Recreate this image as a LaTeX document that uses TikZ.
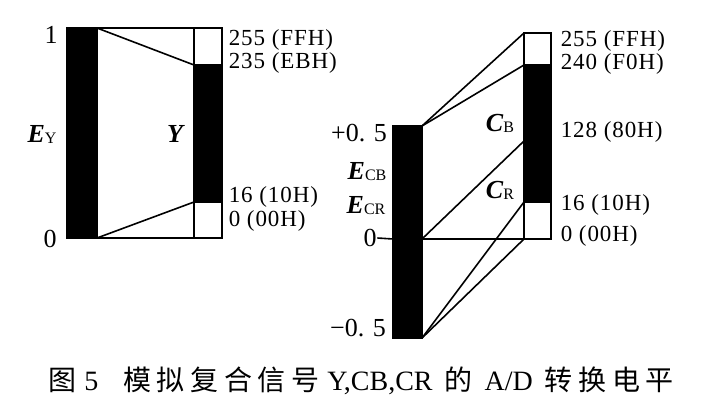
\documentclass[tikz,border=0pt]{standalone}
\usepackage{fontspec}
\setmainfont{Liberation Serif}
\newfontfamily\cjk[LetterSpace=20]{Noto Sans CJK SC}
\newfontfamily\lvlfont[LetterSpace=4]{Liberation Serif}
\usetikzlibrary{positioning,calc}
\newcommand{\sig}[2]{\textbf{\textit{#1}}\raisebox{-1pt}{\fontsize{16}{16}\selectfont #2}}

\begin{document}
\begin{tikzpicture}[x=1pt,y=-1pt,line width=1.6pt,
  bar/.style={rectangle,fill=black,draw=black,inner sep=0pt,outer sep=0pt},
  frame/.style={rectangle,draw=black,inner sep=0pt,outer sep=0pt},
  lvl/.style={anchor=west,inner sep=0pt,font=\fontsize{23}{23}\selectfont\lvlfont},
  sym/.style={inner sep=0pt,font=\fontsize{26}{26}\selectfont}
]
\useasboundingbox (0,0) rectangle (702,412);
% Y: analogue bar and 8-bit range
\node[bar,minimum width=30pt,minimum height=210pt] (ey) at (82,133) {};
\node[bar,minimum width=28pt,minimum height=137pt] (yblack) at (208,133.5) {};
\node[frame,minimum width=28pt,minimum height=210pt] (yframe) at (208,133) {};
\draw (ey.north east) -- (yframe.north west);
\draw (ey.north east) -- (yblack.north west);
\draw (ey.south east) -- (yblack.south west);
\draw (ey.south east) -- (yframe.south west);
\node[sym] (yone) at (51,35) {1};
\node[sym] (yzero) at (50,239) {0};
\node[sym] (eylbl) at (42,134) {\sig{E}{Y}};
\node[sym] (ylbl) at (176,134) {\textbf{\textit{Y}}};
\node[lvl] (y255) at (228,40) {255 (FFH)};
\node[lvl] (y235) at (228,63) {235 (EBH)};
\node[lvl] (y16) at (228,197) {16 (10H)};
\node[lvl] (y0) at (228,221) {0 (00H)};
% CB, CR: analogue bar and 8-bit range
\node[bar,minimum width=29pt,minimum height=212pt] (ec) at (407.5,232) {};
\node[bar,minimum width=27pt,minimum height=137pt] (cblack) at (537.5,133.5) {};
\node[frame,minimum width=27pt,minimum height=206pt] (cframe) at (537.5,136) {};
\coordinate (ez) at (ec.east |- cframe.south west);
\coordinate (cmid) at (524,141);
\draw (ec.north east) -- (cframe.north west);
\draw (ec.north east) -- (cblack.north west);
\draw (ez) -- (cmid);
\draw (ez) -- (cframe.south west);
\draw (ec.south east) -- (cblack.south west);
\draw (ec.south east) -- (cframe.south west);
\node[sym] (cplus) at (359,133) {+0. 5};
\node[sym] (cminus) at (358,328) {\char"2212 0. 5};
\node[sym] (czero) at (370,238) {0};
\draw (czero.east) -- (ec.west |- ez);
\node[sym] (ecblbl) at (367,172) {\sig{E}{CB}};
\node[sym] (ecrlbl) at (366,206) {\sig{E}{CR}};
\node[sym] (cblbl) at (500,123) {\sig{C}{B}};
\node[sym] (crlbl) at (500,190) {\sig{C}{R}};
\node[lvl] (c255) at (560,41) {255 (FFH)};
\node[lvl] (c240) at (560,64) {240 (F0H)};
\node[lvl] (c128) at (560,132) {128 (80H)};
\node[lvl] (c16) at (560,205) {16 (10H)};
\node[lvl] (c0) at (560,236) {0 (00H)};
% caption
\node[inner sep=0pt,font=\fontsize{28}{28}\selectfont] (caption) at (361,381)
  {{\cjk 图}\hspace{8pt}5\hspace{25pt}{\cjk 模拟复合信号}\hspace{8pt}Y,CB,CR\hspace{12pt}{\cjk 的}\hspace{12pt}A/D\hspace{12pt}{\cjk 转换电平}};
\end{tikzpicture}
\end{document}
